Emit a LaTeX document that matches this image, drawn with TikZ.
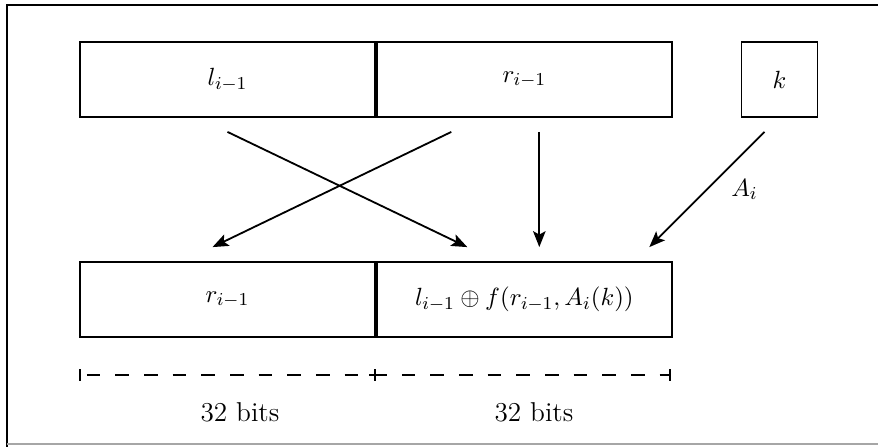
\documentclass[tikz,border=0pt]{standalone}
\usepackage{amsmath,amssymb}
\usetikzlibrary{arrows.meta,positioning}
\tikzstyle{blk}=[rectangle,draw,line width=0.8pt,minimum width=129.8pt,minimum height=33pt,
                 inner sep=0pt,align=center,font=\fontsize{11}{13}\selectfont]
\tikzstyle{keybox}=[rectangle,draw,line width=0.8pt,minimum width=33.4pt,minimum height=33pt,
                 inner sep=0pt,font=\fontsize{11}{13}\selectfont]
\tikzstyle{arr}=[-{Stealth[length=7pt,width=5.5pt,inset=1.5pt]},line width=0.8pt]
\tikzstyle{bitlabel}=[font=\large]

\begin{document}
\begin{tikzpicture}[x=0.44pt,y=-0.44pt]
  \useasboundingbox (0,0) rectangle (878,446);
  % frame
  \draw[line width=1.2pt] (7,450) -- (7,5) -- (890,5);
  \draw[gray!70,line width=0.5pt] (7,444) -- (878,444);

  % blocks
  \node[blk] (l) at (227.5,79.5) {$l_{i-1}$};
  \node[blk,right=0pt of l] (r) {$r_{i-1}$};
  \node[keybox] (k) at (779.5,79.5) {$k$};
  \node[blk] (rn) at (227.5,299.5) {$r_{i-1}$};
  \node[blk,right=0pt of rn] (ln) {$l_{i-1}\oplus f(r_{i-1},A_i(k))$};

  % arrows
  \draw[arr] ([shift={(0,14)}]l.south) -- ([shift={(-57,-14)}]ln.north);
  \draw[arr] ([shift={(-73,14)}]r.south) -- ([shift={(-15,-14)}]rn.north);
  \draw[arr] ([shift={(15,14)}]r.south) -- ([shift={(15,-14)}]ln.north);
  \draw[arr] ([shift={(-15,14)}]k.south) -- node[midway,right=7pt,font=\fontsize{11}{13}\selectfont] {$A_i$} ([shift={(125,-14)}]ln.north);

  % bit widths
  \coordinate (dl) at (80,375);
  \coordinate (dm) at (375,375);
  \coordinate (dr) at (670,375);
  \draw[line width=0.8pt,dash pattern=on 6pt off 6.6pt,dash phase=-3pt] (dl) -- (dr);
  \draw[line width=0.8pt] ([shift={(0,-6)}]dl) -- ([shift={(0,6)}]dl);
  \draw[line width=0.8pt] ([shift={(0,-6)}]dm) -- ([shift={(0,6)}]dm);
  \draw[line width=0.8pt] ([shift={(0,-6)}]dr) -- ([shift={(0,6)}]dr);
  \draw[line width=0.8pt] ([shift={(-6,0)}]dm) -- ([shift={(6,0)}]dm);
  \node[bitlabel] (b1) at (240,412) {32 bits};
  \node[bitlabel] (b2) at (534,412) {32 bits};
\end{tikzpicture}
\end{document}
